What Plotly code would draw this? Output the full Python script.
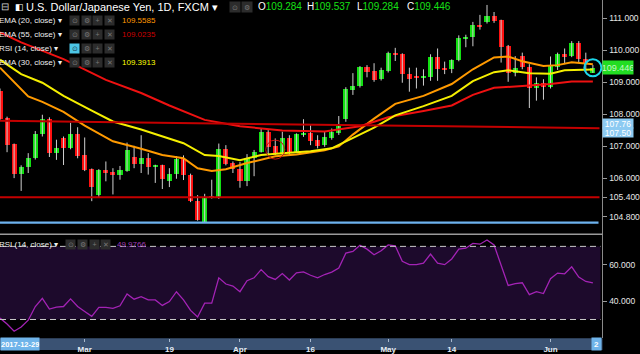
import plotly.graph_objects as go
import pandas as pd

W, H = 640, 354
FONT = "Liberation Sans, Arial, sans-serif"

# ---------------- data ----------------
opens = [108.72, 107.88, 107.06, 106.13, 106.35, 106.63, 107.37, 107.86, 106.78, 107.26,
         106.93, 107.39, 106.72, 106.28, 105.46, 106.25, 106.18, 106.10, 106.23, 106.67,
         106.44, 106.62, 106.35, 106.40, 105.92, 106.13, 106.60, 106.09, 105.28, 104.63,
         105.45, 105.38, 106.90, 106.47, 106.29, 105.90, 106.62, 106.83, 107.45, 107.00,
         106.78, 107.26, 106.83, 107.34, 107.42, 107.19, 107.03, 107.26, 107.40, 107.84,
         108.76, 108.87, 109.47, 109.35, 109.09, 109.35, 109.92, 109.87, 109.25, 109.17,
         109.13, 109.15, 109.79, 109.43, 109.40, 109.68, 110.36, 110.41, 110.79, 110.88,
         111.05, 110.93, 110.14, 109.30, 109.81, 109.46, 108.81, 108.96, 108.84, 109.47,
         109.87, 109.81, 110.21, 109.73, 109.284]
highs = [108.80, 107.92, 107.08, 106.40, 106.78, 107.47, 107.98, 107.90, 107.20, 107.30,
         107.73, 107.59, 107.27, 106.30, 106.28, 106.52, 106.31, 106.38, 107.11, 107.01,
         107.34, 106.78, 106.42, 106.42, 106.31, 106.69, 106.71, 106.14, 105.47, 105.51,
         105.95, 107.08, 107.03, 106.52, 106.50, 106.75, 106.88, 107.55, 107.50, 107.24,
         107.45, 107.34, 107.40, 107.84, 107.65, 107.34, 107.45, 107.55, 107.94, 108.84,
         109.28, 109.50, 109.53, 109.59, 109.45, 109.95, 110.07, 109.90, 109.45, 109.45,
         109.40, 109.87, 110.05, 109.64, 109.71, 110.46, 110.48, 110.88, 111.10, 111.41,
         111.19, 110.95, 110.16, 109.81, 109.92, 109.56, 109.15, 109.09, 109.80, 109.92,
         110.05, 110.28, 110.28, 109.92, 109.537]
lows = [107.80, 106.81, 106.00, 105.60, 106.16, 106.58, 107.30, 106.66, 106.57, 106.41,
        106.90, 106.62, 106.22, 105.28, 105.39, 105.90, 105.49, 105.95, 106.20, 106.31,
        106.16, 106.11, 105.85, 105.66, 105.72, 105.98, 105.94, 105.25, 104.67, 104.60,
        105.36, 105.35, 106.40, 106.16, 105.70, 105.75, 106.06, 106.80, 106.72, 106.72,
        106.72, 106.72, 106.80, 107.29, 107.03, 106.93, 106.98, 107.20, 107.35, 107.76,
        108.60, 108.83, 109.15, 109.01, 109.05, 109.30, 109.66, 108.98, 108.70, 108.80,
        108.89, 109.04, 109.04, 109.25, 109.28, 109.65, 110.09, 110.12, 110.64, 110.83,
        110.85, 109.61, 109.01, 109.18, 109.40, 108.19, 108.42, 108.45, 108.80, 109.38,
        109.56, 109.78, 109.60, 109.28, 109.284]
closes = [107.86, 107.05, 106.13, 106.35, 106.64, 107.39, 107.84, 106.78, 106.93, 106.93,
          107.39, 106.68, 106.26, 105.73, 106.25, 106.16, 106.10, 106.24, 106.87, 106.45,
          106.64, 106.35, 106.38, 105.97, 106.13, 106.60, 106.09, 105.28, 104.70, 105.42,
          105.40, 106.90, 106.45, 106.30, 105.92, 106.64, 106.83, 107.45, 106.96, 106.78,
          107.26, 106.81, 107.38, 107.42, 107.16, 107.01, 107.29, 107.43, 107.68, 108.78,
          108.87, 109.47, 109.33, 109.06, 109.37, 109.92, 109.87, 109.25, 109.09, 109.13,
          109.17, 109.79, 109.40, 109.38, 109.69, 110.38, 110.41, 110.77, 110.75, 111.05,
          110.90, 110.09, 109.30, 109.43, 109.46, 108.81, 108.96, 108.86, 109.54, 109.87,
          109.81, 110.21, 109.73, 109.56, 109.446]

rsi = [30.8, 27.5, 23.6, 25.9, 29.6, 37.1, 41.6, 35.7, 36.8, 37.1,
       41.3, 37.1, 34.4, 31.7, 36.6, 36.6, 36.1, 37.5, 44.0, 41.1,
       42.5, 40.7, 40.7, 37.7, 39.8, 45.2, 40.7, 35.0, 31.4, 38.9,
       38.9, 52.8, 49.4, 48.3, 45.2, 51.2, 52.8, 57.3, 53.4, 51.9,
       55.1, 51.6, 55.5, 56.0, 54.2, 52.8, 54.6, 55.9, 58.2, 66.3,
       67.2, 70.6, 68.5, 65.4, 67.6, 70.8, 70.3, 61.8, 60.0, 60.0,
       60.8, 65.8, 60.8, 60.0, 63.1, 68.5, 69.0, 71.6, 71.2, 73.5,
       70.8, 59.5, 48.6, 49.6, 50.1, 43.6, 45.2, 44.2, 52.3, 55.4,
       55.0, 58.8, 53.2, 50.8, 49.98]

ema20_x = [0, 2, 4, 6, 9, 12, 16, 20, 23, 26, 28, 30, 32, 35, 39, 42, 46, 48, 50, 53,
           56, 60, 64, 67, 70, 72, 74, 77, 79, 81, 84]
ema20_y = [109.45, 109.00, 108.55, 108.38, 108.07, 107.64, 107.15, 106.92, 106.72, 106.62,
           106.31, 106.22, 106.28, 106.47, 106.68, 106.74, 106.87, 106.99, 107.36, 107.86,
           108.32, 108.57, 108.94, 109.40, 109.77, 109.80, 109.65, 109.50, 109.53, 109.62,
           109.56]
ema30_x = [0, 3, 6, 9, 13, 16, 20, 23, 26, 29, 31, 34, 37, 40, 44, 47, 50, 53, 56, 60,
           64, 67, 70, 72, 75, 78, 80, 84]
ema30_y = [109.70, 109.25, 108.98, 108.57, 108.11, 107.77, 107.52, 107.31, 107.09, 106.72,
           106.69, 106.56, 106.72, 106.78, 106.84, 106.93, 107.26, 107.58, 107.96, 108.25,
           108.57, 109.03, 109.31, 109.37, 109.28, 109.26, 109.37, 109.39]
ema55_x = [0, 3, 9, 15, 20, 24, 29, 34, 40, 46, 51, 55, 60, 64, 67, 70, 74, 78, 81, 84]
ema55_y = [110.55, 110.24, 109.72, 109.07, 108.66, 108.27, 107.82, 107.62, 107.49, 107.46,
           107.62, 107.90, 108.10, 108.27, 108.60, 108.82, 108.88, 108.94, 109.02, 109.02]

legend_values = {"ema20": "109.5585", "ema55": "109.0235", "ema30": "109.3913", "rsi": "49.9766"}

level_support = 104.61
level_red = 105.40
trend_start, trend_end = 107.79, 107.56
axis_boxes = ["107.76", "107.50"]
price_ticks = [104.8, 105.4, 106.0, 107.0, 108.0, 109.0, 110.0, 111.0]
rsi_ticks = [40, 60]
date_ticks = ["2018-03-01", "2018-03-19", "2018-04-02", "2018-04-16",
              "2018-05-01", "2018-05-14", "2018-06-01"]
date_labels = ["Mar", "19", "Apr", "16", "May", "14", "Jun"]

# ---------------- helpers ----------------
n = len(closes)
xi = list(range(n))
dates = pd.bdate_range("2018-02-13", periods=n)
dmap = {d.strftime("%Y-%m-%d"): i for i, d in enumerate(dates)}
tickpos = [dmap[d] for d in date_ticks]

PR = 612            # right edge of plot area (px)
MAIN_B = 237        # bottom of price pane (px)
RSI_B = 342         # bottom of RSI pane (px)
XR = [0, PR / 7.17]
YR = [104.244, 111.565]
RR = [19.8, 76.6]

GREEN = "#12e012"
RED = "#ff1010"

fig = go.Figure()

# wicks
wx, wy = [], []
for i in xi:
    wx += [i, i, None]
    wy += [lows[i], highs[i], None]
fig.add_trace(go.Scatter(x=wx, y=wy, mode="lines", line=dict(color="#cfcfcf", width=1),
                         hoverinfo="skip", showlegend=False, xaxis="x", yaxis="y"))
# bodies
base = [min(o, c) for o, c in zip(opens, closes)]
span = [max(abs(c - o), 0.035) for o, c in zip(opens, closes)]
cols = [GREEN if c >= o else RED for o, c in zip(opens, closes)]
fig.add_trace(go.Bar(x=xi, y=span, base=base, width=0.72,
                     marker=dict(color=cols, line=dict(width=0)),
                     showlegend=False, xaxis="x", yaxis="y"))

fig.add_trace(go.Scatter(x=ema20_x, y=ema20_y, mode="lines", line=dict(color="#ff9a00", width=2),
                         showlegend=False, xaxis="x", yaxis="y"))
fig.add_trace(go.Scatter(x=ema55_x, y=ema55_y, mode="lines", line=dict(color="#ee1111", width=2),
                         showlegend=False, xaxis="x", yaxis="y"))
fig.add_trace(go.Scatter(x=ema30_x, y=ema30_y, mode="lines", line=dict(color="#f5ef00", width=2),
                         showlegend=False, xaxis="x", yaxis="y"))

# circles
fig.add_trace(go.Scatter(x=[xi[-1]], y=[closes[-1]], mode="markers",
                         marker=dict(symbol="circle-open", size=17, line=dict(color="#1cd6ea", width=2),
                                     color="#1cd6ea"),
                         showlegend=False, xaxis="x", yaxis="y"))
fig.add_trace(go.Scatter(x=[39], y=[(opens[39] + closes[39]) / 2], mode="markers",
                         marker=dict(symbol="circle-open", size=19, line=dict(color="#cc1010", width=1),
                                     color="#cc1010"),
                         showlegend=False, xaxis="x", yaxis="y"))

# RSI
fig.add_trace(go.Scatter(x=xi, y=rsi, mode="lines", line=dict(color="#a323b5", width=1.3),
                         showlegend=False, xaxis="x2", yaxis="y2"))

shapes = []
shapes.append(dict(type="rect", xref="x2 domain", yref="y2", x0=0, x1=610 / PR, y0=30, y1=70,
                   fillcolor="#1d0a2c", line=dict(width=0), layer="below"))
for lv in (30, 70):
    shapes.append(dict(type="line", xref="x2 domain", yref="y2", x0=0, x1=610 / PR, y0=lv, y1=lv,
                       line=dict(color="#c9c9c9", width=1, dash="6px,4px"), layer="above"))
shapes.append(dict(type="line", xref="paper", yref="y", x0=0, x1=608 / W, y0=level_support,
                   y1=level_support, line=dict(color="#6db2ee", width=2.2), layer="above"))
shapes.append(dict(type="line", xref="paper", yref="y", x0=0, x1=609 / W, y0=level_red,
                   y1=level_red, line=dict(color="#c40000", width=2), layer="above"))
shapes.append(dict(type="line", xref="paper", yref="y", x0=0, x1=609 / W, y0=trend_start,
                   y1=trend_end, line=dict(color="#c40000", width=2), layer="above"))
shapes.append(dict(type="line", xref="paper", yref="paper", x0=0, x1=PR / W, y0=1 - MAIN_B / H,
                   y1=1 - MAIN_B / H, line=dict(color="#9a9a9a", width=1.5), layer="above"))
shapes.append(dict(type="rect", xref="paper", yref="paper", x0=0, x1=PR / W, y0=0, y1=1 - RSI_B / H,
                   fillcolor="#3a5273", line=dict(width=0), layer="below"))

anns = []


def T(x, y, text, color="#e8e8e8", size=8, anchor="left", bg=None, w=None, h=None, pad=0,
      yref="paper"):
    a = dict(xref="paper", yref=yref, x=x / W, y=(1 - y / H) if yref == "paper" else y,
             text=text, showarrow=False, xanchor=anchor, yanchor="middle",
             font=dict(family=FONT, size=size, color=color), borderpad=pad)
    if bg:
        a["bgcolor"] = bg
    if w:
        a["width"] = w
    if h:
        a["height"] = h
    anns.append(a)


def icons(y, centers, first_bg="#2c2c2c", first_col="#777777"):
    syms = ["⊙", "⚙", "+", "✕"]
    for k, cx in enumerate(centers):
        bg = first_bg if k == 0 else "#2c2c2c"
        col = first_col if k == 0 else "#777777"
        T(cx, y, syms[k], color=col, size=7, anchor="center", bg=bg, w=9, h=9)


# title row
T(0, 7, "⊟", color="#cfcfcf", size=10)
T(14, 7, "◧", color="#ffffff", size=9)
T(25, 7, "U.S. Dollar/Japanese Yen, 1D, FXCM ▾", color="#ffffff", size=11)
T(239, 7, "⊙", color="#777777", size=7, anchor="center", bg="#2c2c2c", w=10, h=10)
T(251, 7, "⚙", color="#777777", size=7, anchor="center", bg="#2c2c2c", w=10, h=10)
G = "#16e016"
for xx, lab, val in [(261, "O", opens[-1]), (311, "H", highs[-1]), (362, "L", lows[-1]),
                     (412, "C", closes[-1])]:
    T(xx, 7, f'{lab}<span style="color:{G}">{val:.3f}</span>', color="#ffffff", size=10)

rows = [(21, "EMA (20, close) ▾", legend_values["ema20"], "#ff9800"),
        (35, "EMA (55, close) ▾", legend_values["ema55"], "#cc0000"),
        (49, "RSI (14, close) ▾", None, None),
        (63, "EMA (30, close) ▾", legend_values["ema30"], "#ffff00")]
for y, lab, val, col in rows:
    T(-2, y, lab, color="#eeeeee", size=8)
    if lab.startswith("RSI"):
        icons(y, [76, 87.5, 99, 111], first_bg="#4cc6e6", first_col="#1a3a4a")
    else:
        icons(y, [76, 87.5, 99, 111])
    if val:
        T(123, y, val, color=col, size=8)

# RSI pane legend
T(-2, 247, "RSI (14, close) ▾", color="#eeeeee", size=8)
icons(247, [72, 84, 95.5, 107.5])
T(118, 247, legend_values["rsi"], color="#a03cb8", size=8)

# right axis price boxes (stacked so they don't collide, as in the reference)
T(612, 124.5, axis_boxes[0], color="#ffffff", size=8.5, bg="#8ccaf2", w=30, h=9)
T(612, 134, axis_boxes[1], color="#ffffff", size=8.5, bg="#8ccaf2", w=30, h=9)
T(612, closes[-1], f"{closes[-1]:.3f}", color="#c6f7c6", size=9, bg="#22dd22", w=30, h=13, yref="y")

# time axis boxes
T(0, 348, "<b>2017-12-29</b>", color="#ffffff", size=7.5, anchor="left", bg="#6fb4ea", h=12)
T(612, 348, "<b>2</b>", color="#ffffff", size=8, anchor="right", bg="#6fb4ea", w=9, h=12)

fig.update_layout(
    width=W, height=H, margin=dict(l=0, r=0, t=0, b=0),
    paper_bgcolor="#000000", plot_bgcolor="#000000",
    showlegend=False, hovermode=False, bargap=0,
    font=dict(family=FONT, color="#dddddd"),
    xaxis=dict(domain=[0, PR / W], range=XR, anchor="y", showticklabels=False, showgrid=False,
               zeroline=False, ticks="", fixedrange=True),
    yaxis=dict(domain=[1 - MAIN_B / H, 1], range=YR, anchor="x", side="right",
               tickvals=price_ticks, ticktext=[f"{v:.3f}" for v in price_ticks],
               ticks="outside", ticklen=4, tickcolor="#9a9a9a",
               tickfont=dict(size=8.5, color="#e6e6e6"), showgrid=False, zeroline=False,
               showline=True, linecolor="#8a8a8a", linewidth=1),
    xaxis2=dict(domain=[0, PR / W], range=XR, anchor="y2", tickvals=tickpos,
                ticktext=[f"<b>{t}</b>" for t in date_labels], ticks="outside", ticklen=3,
                tickcolor="#a8b8cc", tickfont=dict(size=8, color="#e8eef6"),
                showgrid=False, zeroline=False),
    yaxis2=dict(domain=[1 - RSI_B / H, 1 - MAIN_B / H], range=RR, anchor="x2", side="right",
                tickvals=rsi_ticks, ticktext=[f"{v:.3f}" for v in rsi_ticks],
                ticks="outside", ticklen=4, tickcolor="#9a9a9a",
                tickfont=dict(size=8.5, color="#e6e6e6"), showgrid=False, zeroline=False,
                showline=True, linecolor="#8a8a8a", linewidth=1),
    shapes=shapes, annotations=anns,
)

fig.write_html("out.html")
